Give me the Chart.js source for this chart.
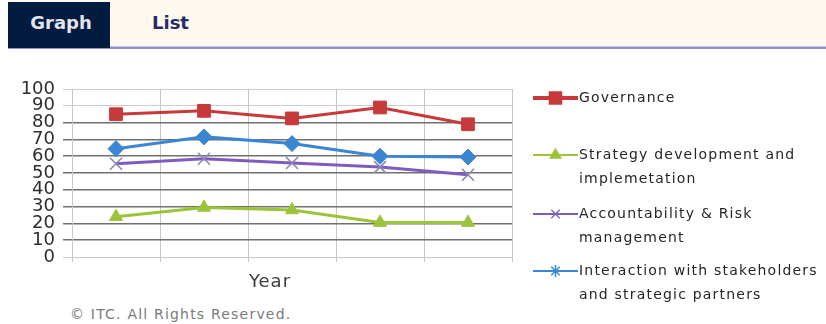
<!DOCTYPE html>
<html>
<head>
<meta charset="utf-8">
<script src="https://cdn.jsdelivr.net/npm/chart.js@4/dist/chart.umd.min.js"></script>
<style>
  html, body { margin: 0; padding: 0; background: #ffffff; }
  body { width: 826px; height: 324px; position: relative; overflow: hidden; font-family: "DejaVu Sans", sans-serif; }
  #bar { position: absolute; left: 8px; top: 0; width: 818px; height: 46px; background: #fdf9ee; }
  #rule { position: absolute; left: 8px; top: 46px; width: 818px; height: 3px; background: #8e8ed2; border-top: 1px solid #c6c6ea; box-sizing: border-box; }
  #tabGraph { position: absolute; left: 8px; top: 2px; width: 102px; height: 46px; background: #031b3e; color: #e2e5f0;
              font: bold 18px "DejaVu Sans", sans-serif; line-height: 42px; text-align: center; padding-left: 4px; box-sizing: border-box; }
  #tabList { position: absolute; left: 152px; top: 2px; height: 42px; color: #26296a;
             font: bold 18px "DejaVu Sans", sans-serif; line-height: 42px; }
  #footer { position: absolute; left: 70px; top: 306px; color: #7a7a7a; font: 14px "DejaVu Sans", sans-serif; letter-spacing: 1.2px; }
  #chart { position: absolute; left: 0; top: 0; }
</style>
</head>
<body>
<div id="bar"></div>
<div id="rule"></div>
<div id="tabGraph">Graph</div>
<div id="tabList">List</div>
<div id="footer">© ITC. All Rights Reserved.</div>
<canvas id="chart" width="826" height="324"></canvas>
<script>
// Five yearly assessments (category labels are not shown on the axis)
const categories = ['', '', '', '', ''];

// Scores per dimension
const governance     = [85, 87, 82.5, 89, 79];
const strategy       = [24, 29.5, 28, 20.5, 20.5];
const accountability = [55.5, 58.5, 56, 53.5, 49];
const interaction    = [64.5, 71.5, 67.5, 60, 59.5];

// Value axis ticks
const yTickValues = [0, 10, 20, 30, 40, 50, 60, 70, 80, 90, 100];

// Legend text, one array of lines per series
const legendLines = [
  ['Governance'],
  ['Strategy development and', 'implemetation'],
  ['Accountability & Risk', 'management'],
  ['Interaction with stakeholders', 'and strategic partners']
];

const COLORS = {
  red: '#c8393b',
  green: '#9cc43a',
  purple: '#7f5bbf',
  blue: '#3b86d4'
};

// Legend marker drawn to the right of the plot: a short line with the series marker
const legendMarkers = [
  { color: COLORS.red,    lineWidth: 4, style: 'rect',     radius: 8.5, fill: COLORS.red,    stroke: COLORS.red },
  { color: COLORS.green,  lineWidth: 2, style: 'triangle', radius: 6,   fill: COLORS.green,  stroke: COLORS.green },
  { color: COLORS.purple, lineWidth: 2, style: 'crossRot', radius: 6,   fill: COLORS.purple, stroke: '#7f6fb8' },
  { color: COLORS.blue,   lineWidth: 2, style: 'star',     radius: 6,   fill: COLORS.blue,   stroke: COLORS.blue }
];

const sideLegend = {
  id: 'sideLegend',
  afterDraw(chart) {
    const ctx = chart.ctx;
    const x0 = 533, lineLen = 45, textX = 579;
    const rowY = [98, 155, 214, 271];
    const lineGap = 24;
    ctx.save();
    legendMarkers.forEach((m, i) => {
      const y = rowY[i];
      ctx.strokeStyle = m.color;
      ctx.lineWidth = m.lineWidth;
      ctx.beginPath();
      ctx.moveTo(x0, y);
      ctx.lineTo(x0 + lineLen, y);
      ctx.stroke();
      ctx.fillStyle = m.fill;
      ctx.strokeStyle = m.stroke;
      ctx.lineWidth = 1.5;
      Chart.helpers.drawPoint(ctx, { pointStyle: m.style, radius: m.radius, rotation: 0, borderWidth: 1.5 }, x0 + lineLen / 2, y);
      ctx.fillStyle = '#262626';
      ctx.font = '14px "DejaVu Sans", sans-serif';
      ctx.letterSpacing = '1.2px';
      ctx.textBaseline = 'middle';
      ctx.textAlign = 'left';
      legendLines[i].forEach((t, k) => ctx.fillText(t, textX, y + k * lineGap));
    });
    // axis caption under the category axis
    ctx.fillStyle = '#3c3c3c';
    ctx.font = '18px "DejaVu Sans", sans-serif';
    ctx.letterSpacing = '1px';
    ctx.textAlign = 'center';
    ctx.textBaseline = 'middle';
    ctx.fillText('Year', 270, 282);
    ctx.restore();
  }
};

function series(label, data, color, style, radius, extra) {
  return Object.assign({
    label, data,
    borderColor: color,
    backgroundColor: color,
    borderWidth: 3,
    tension: 0,
    pointStyle: style,
    pointRadius: radius,
    pointHoverRadius: radius,
    pointBackgroundColor: color,
    pointBorderColor: color,
    pointBorderWidth: 1
  }, extra || {});
}

new Chart(document.getElementById('chart'), {
  type: 'line',
  data: {
    labels: categories,
    datasets: [
      series(legendLines[0].join(' '), governance, COLORS.red, 'rect', 9),
      series(legendLines[1].join(' '), strategy, COLORS.green, 'triangle', 7.5),
      series(legendLines[2].join(' '), accountability, COLORS.purple, 'crossRot', 8.5,
             { pointBorderColor: '#8c86b6', pointBorderWidth: 1.5 }),
      series(legendLines[3].join(' '), interaction, COLORS.blue, 'rectRot', 8)
    ]
  },
  options: {
    responsive: false,
    devicePixelRatio: 1,
    animation: false,
    layout: { padding: { top: 89, right: 314, left: 0, bottom: 0 } },
    plugins: { legend: { display: false }, tooltip: { enabled: false }, title: { display: false } },
    scales: {
      x: {
        offset: true,
        grid: { offset: true, color: '#c3c9bf', lineWidth: 1, tickLength: 5, drawTicks: true },
        border: { color: '#c8c8c8', width: 1 },
        ticks: { display: false },
        afterFit(scale) { scale.height = 67; }
      },
      y: {
        min: 0, max: 100,
        grid: {
          color: (c) => (c.tick && (c.tick.value >= 90 || c.tick.value === 0)) ? '#cdcdcd' : '#707070',
          lineWidth: (c) => (c.tick && (c.tick.value >= 90 || c.tick.value === 0)) ? 1 : 1.5,
          tickLength: 9
        },
        border: { color: '#c8c8c8', width: 1 },
        ticks: {
          autoSkip: false,
          padding: 8,
          color: '#2e2e2e',
          font: { family: '"DejaVu Sans", sans-serif', size: 18, lineHeight: 1 }
        },
        afterBuildTicks(scale) { scale.ticks = yTickValues.map(v => ({ value: v })); },
        afterFit(scale) { scale.width = 72; }
      }
    }
  },
  plugins: [sideLegend]
});
</script>
</body>
</html>
